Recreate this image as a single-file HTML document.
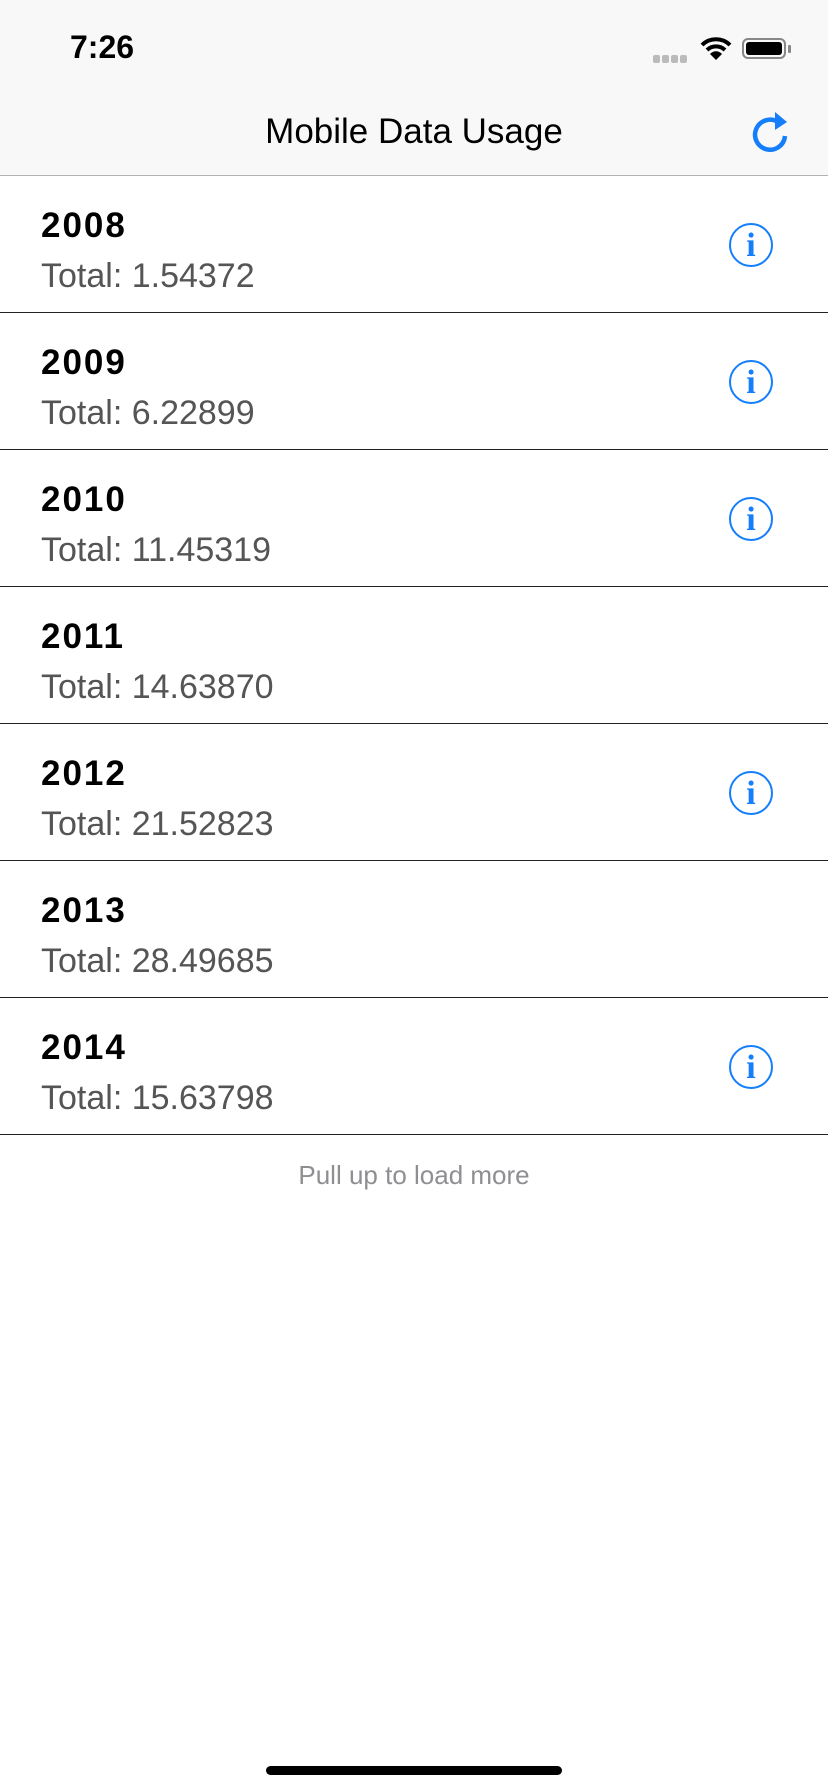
<!DOCTYPE html>
<html><head><meta charset="utf-8"><style>
body{margin:0;width:828px;height:1792px;background:#fff;font-family:"Liberation Sans",sans-serif;position:relative;overflow:hidden}
.abs{position:absolute}
#nav{left:0;top:0;width:828px;height:176px;background:#f8f8f8;border-bottom:1px solid #b2b2b2;box-sizing:border-box}
.row{position:absolute;left:0;width:828px;height:137px;border-bottom:1.5px solid #222;box-sizing:border-box}
.yr{position:absolute;left:41px;top:30px;font-size:35px;font-weight:bold;color:#000;letter-spacing:2px}
.tot{position:absolute;left:41px;top:81px;font-size:34px;color:#555}
.info{position:absolute;left:729px;top:47px;width:40px;height:40px;border:2px solid #147efb;border-radius:50%;color:#147efb;font-family:"Liberation Serif",serif;font-size:34px;font-weight:bold;text-align:center;line-height:42px}
</style></head><body>
<div id="nav" class="abs"></div>
<div class="abs" style="left:70px;top:29px;font-size:32px;font-weight:bold">7:26</div>
<div class="abs" style="left:653px;top:50px">
<span style="display:inline-block;width:7px;height:8px;background:#bbb;border-radius:2px;margin-right:2px"></span><span style="display:inline-block;width:7px;height:8px;background:#bbb;border-radius:2px;margin-right:2px"></span><span style="display:inline-block;width:7px;height:8px;background:#bbb;border-radius:2px;margin-right:2px"></span><span style="display:inline-block;width:7px;height:8px;background:#bbb;border-radius:2px"></span></div>
<svg class="abs" style="left:700px;top:36px" width="32" height="26"><path d="M2 9 A20 20 0 0 1 30 9" stroke="#000" stroke-width="4" fill="none"/><path d="M7 14 A13 13 0 0 1 25 14" stroke="#000" stroke-width="4" fill="none"/><path d="M16 24 L10 18 A8 8 0 0 1 22 18 Z" fill="#000"/></svg>
<div class="abs" style="left:742px;top:38px;width:44px;height:21px;border:2px solid #888;border-radius:6px;box-sizing:border-box;padding:2px"><div style="width:100%;height:100%;background:#000;border-radius:3px"></div></div>
<div class="abs" style="left:788px;top:45px;width:3px;height:8px;background:#888;border-radius:1px"></div>
<div class="abs" style="left:0;width:828px;top:112px;text-align:center;font-size:35px;color:#000">Mobile Data Usage</div>
<svg class="abs" style="left:748px;top:108px" width="44" height="48"><path d="M30 14 A15 15 0 1 0 37 28" stroke="#147efb" stroke-width="4.5" fill="none"/><path d="M27 4 L39 14 L27 22 Z" fill="#147efb"/></svg>
<div id="list"></div>
<div class="abs" style="left:0;width:828px;top:1160px;text-align:center;font-size:26px;color:#8e8e93">Pull up to load more</div>
<div class="abs" style="left:266px;top:1766px;width:296px;height:9px;background:#000;border-radius:5px"></div>
<script>
const years=["2008","2009","2010","2011","2012","2013","2014"];
const totals=["1.54372","6.22899","11.45319","14.63870","21.52823","28.49685","15.63798"];
const hasInfo=[true,true,true,false,true,false,true];
const list=document.getElementById('list');
years.forEach((y,i)=>{
 const r=document.createElement('div');r.className='row';r.style.top=(176+i*137)+'px';
 
 
 const a=document.createElement('div');a.className='yr';a.textContent=y;
 
 
 const b=document.createElement('div');b.className='tot';b.textContent='Total: '+totals[i];
 
 
 r.appendChild(a);r.appendChild(b);
 if(hasInfo[i]){const c=document.createElement('div');c.className='info';c.textContent='i';
 
 
 r.appendChild(c);}
 list.appendChild(r);
});
</script>
</body></html>
